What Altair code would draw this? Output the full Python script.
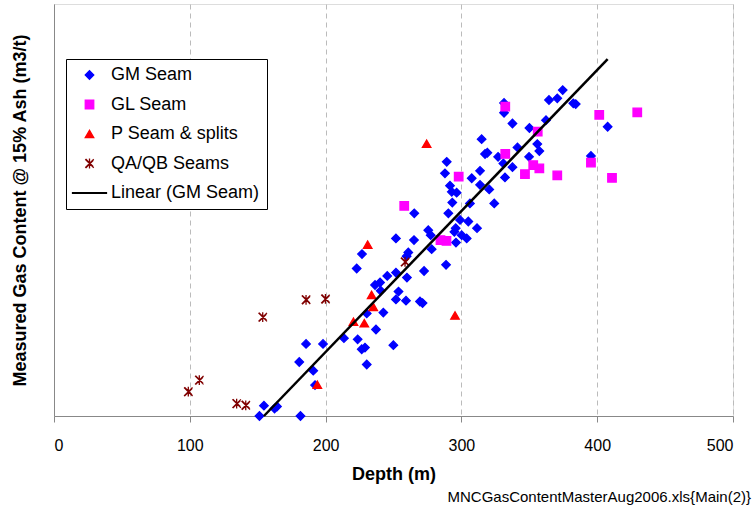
import altair as alt
import pandas as pd

# ---- data ----
gm_depth = [151.3, 154.6, 162.4, 164.2, 181.5, 180.6, 185.6, 198.1, 190.9, 192.2,
            213.5, 223.6, 226.6, 229.0, 230.3, 222.9, 226.8, 230.3, 237.1, 242.5,
            249.9, 236.4, 240.1, 240.6, 245.4, 251.8, 253.7, 251.8, 259.2, 259.9,
            269.5, 271.4, 272.5, 260.9, 259.7, 251.8, 265.1, 265.3, 275.6, 277.4,
            278.1, 288.7, 287.9, 289.2, 291.6, 292.9, 296.5, 293.3, 290.4, 295.8,
            294.8, 296.0, 299.0, 305.1, 300.2, 303.9, 306.3, 311.5, 307.6, 313.7,
            313.7, 320.5, 324.2, 314.9, 317.4, 319.1, 327.0, 330.9, 332.1, 337.6,
            331.4, 331.4, 337.6, 341.3, 349.8, 350.1, 355.9, 357.4, 362.3, 364.5,
            370.6, 374.6, 382.4, 384.2, 395.4, 407.7]
gm_gas = [0.00, 0.25, 0.18, 0.23, 0.00, 1.31, 1.75, 1.75, 1.10, 0.75,
          1.89, 1.86, 1.62, 1.66, 1.25, 3.58, 3.93, 2.49, 2.10, 2.51,
          1.72, 3.18, 3.24, 3.04, 3.40, 3.48, 3.02, 2.83, 2.80, 3.36,
          2.78, 2.74, 3.52, 3.97, 3.88, 4.31, 4.27, 4.92, 4.51, 4.39,
          4.05, 3.67, 5.89, 6.17, 5.59, 5.44, 5.42, 5.18, 4.92, 4.56,
          4.47, 4.21, 4.76, 4.72, 4.39, 4.31, 5.16, 4.56, 5.77, 5.95,
          5.61, 5.50, 5.16, 6.72, 6.36, 6.39, 6.29, 6.13, 5.79, 6.04,
          7.60, 7.36, 7.10, 6.52, 6.29, 6.99, 6.60, 6.43, 7.18, 7.67,
          7.71, 7.91, 7.59, 7.57, 6.31, 7.02]

gl_depth = [257.9, 284.6, 289.0, 298.0, 332.3, 332.3, 346.8, 352.9, 357.4, 356.2,
            370.6, 395.4, 401.5, 410.9, 429.5]
gl_gas = [5.10, 4.27, 4.25, 5.81, 7.51, 6.36, 5.87, 6.09, 6.01, 6.90,
          5.84, 6.15, 7.31, 5.78, 7.37]

p_depth = [193.9, 220.5, 228.5, 231.0, 233.9, 235.1, 274.4, 295.3]
p_gas = [0.76, 2.29, 2.25, 4.16, 2.94, 2.65, 6.61, 2.44]

qa_depth = [98.9, 107.0, 134.5, 141.2, 153.7, 185.6, 199.9, 258.5]
qa_gas = [0.59, 0.87, 0.30, 0.26, 2.40, 2.82, 2.84, 3.74]

trend_depth = [154.6, 407.7]
trend_gas = [0.00, 8.66]

series_names = ["GM Seam", "GL Seam", "P Seam & splits", "QA/QB Seams", "Linear (GM Seam)"]
x_ticks = [0, 100, 200, 300, 400, 500]
footer = "MNCGasContentMasterAug2006.xls{Main(2)}"

# ---- tables ----
pts = pd.concat([
    pd.DataFrame({"depth": gm_depth, "gas": gm_gas, "series": series_names[0]}),
    pd.DataFrame({"depth": gl_depth, "gas": gl_gas, "series": series_names[1]}),
    pd.DataFrame({"depth": p_depth, "gas": p_gas, "series": series_names[2]}),
    pd.DataFrame({"depth": qa_depth, "gas": qa_gas, "series": series_names[3]}),
], ignore_index=True)
trend = pd.DataFrame({"depth": trend_depth, "gas": trend_gas, "series": series_names[4]})
note = pd.DataFrame({"note": [footer]})

asterisk = ("M-1,-1L1,1M-1,1L1,-1M0,-1.15L0,1.15"
            "M-0.9,-1.05L0.9,0.75M-0.9,1.05L0.9,-0.75")
line_sym = "M-4,-0.11L4,-0.11L4,0.11L-4,0.11Z"

shape_scale = alt.Scale(domain=series_names,
                        range=["diamond", "square", "triangle-up", asterisk, line_sym])
fill_scale = alt.Scale(domain=series_names,
                       range=["#0000FF", "#FF00FF", "#FF0000", "transparent", "#000000"])
stroke_scale = alt.Scale(domain=series_names,
                         range=["#0000FF", "#FF00FF", "#FF0000", "#800000", "#000000"])

legend = alt.Legend(
    title=None, orient="none", legendX=12, legendY=55,
    padding=7, symbolOffset=7.5, labelOffset=12.5, rowPadding=11.5,
    strokeColor="#000000", fillColor="#FFFFFF",
    labelFontSize=18, labelFont="Liberation Sans", labelColor="#000000",
    symbolSize=72, symbolStrokeWidth=1.3, labelLimit=300,
)

x_enc = alt.X("depth:Q", scale=alt.Scale(domain=[0, 500], nice=False),
              axis=alt.Axis(values=x_ticks, title="Depth (m)", format="d",
                            grid=True, gridDash=[5, 4], gridColor="#BBBBBB",
                            labelFontSize=16, labelPadding=15, tickSize=6,
                            titleFontSize=18, titleFontWeight="bold", titlePadding=12))
y_enc = alt.Y("gas:Q", scale=alt.Scale(domain=[0, 10], nice=False),
              axis=alt.Axis(labels=False, ticks=False, grid=False,
                            title="Measured Gas Content @ 15% Ash (m3/t)",
                            titleFontSize=18, titleFontWeight="bold", titlePadding=25))

points = alt.Chart(pts).mark_point(filled=True, size=72, strokeWidth=1.3, opacity=1).encode(
    x=x_enc, y=y_enc,
    shape=alt.Shape("series:N", scale=shape_scale, legend=legend, sort=series_names),
    fill=alt.Fill("series:N", scale=fill_scale, legend=legend, sort=series_names),
    stroke=alt.Stroke("series:N", scale=stroke_scale, legend=legend, sort=series_names),
)

line = alt.Chart(trend).mark_line(strokeWidth=2.5).encode(
    x="depth:Q", y="gas:Q",
    stroke=alt.Stroke("series:N", scale=stroke_scale, legend=None),
)

text = alt.Chart(note).mark_text(align="right", baseline="alphabetic", fontSize=15,
                                 font="Liberation Sans", color="#000000").encode(
    x=alt.value(697), y=alt.value(498), text="note:N")

chart = alt.layer(points, line, text).properties(
    width=679, height=412,
    padding={"left": 54, "top": 4, "right": 23, "bottom": 97},
    autosize=alt.AutoSizeParams(type="none"),
).configure(font="Liberation Sans").configure_view(
    stroke="#808080", strokeWidth=1, fill="#FFFFFF"
).configure_axis(
    domainColor="#000000", tickColor="#000000", labelColor="#000000",
    titleColor="#000000", labelFont="Liberation Sans", titleFont="Liberation Sans",
).configure(background="#FFFFFF")

chart.save("out.html", embed_options={"renderer": "svg", "actions": False})
